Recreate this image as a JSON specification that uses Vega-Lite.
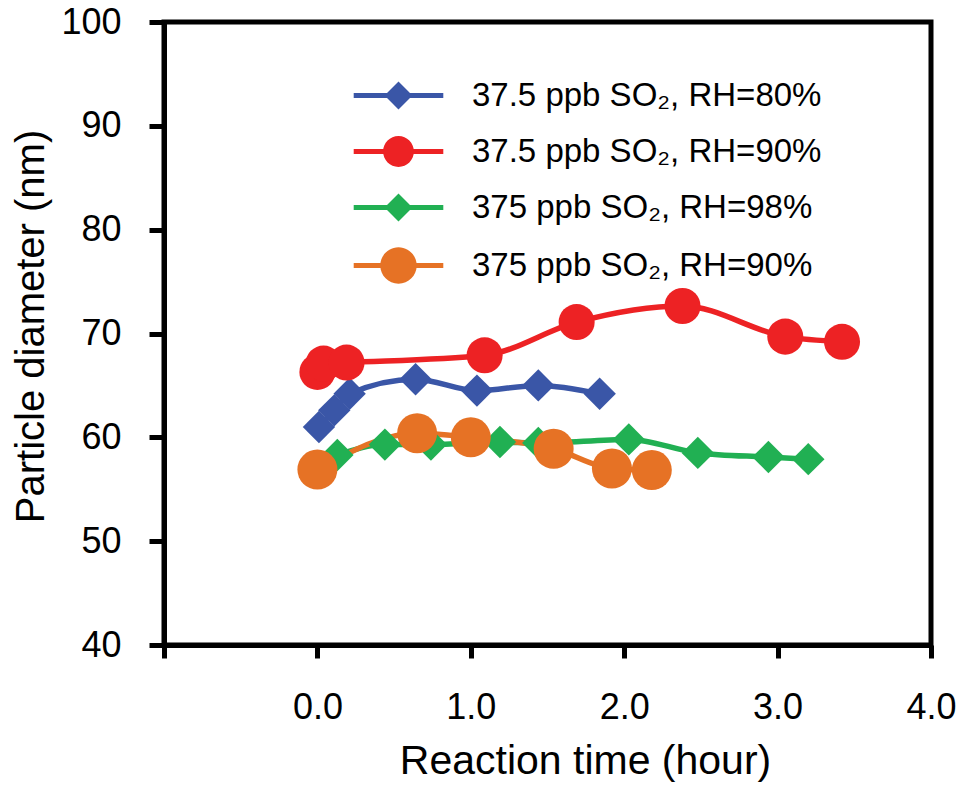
{
  "$schema": "https://vega.github.io/schema/vega-lite/v6.json",
  "width": 767,
  "height": 623,
  "autosize": {"type": "none"},
  "padding": {"left": 164, "top": 22, "right": 26, "bottom": 141},
  "background": "white",
  "config": {
    "view": {"stroke": "black", "strokeWidth": 5},
    "font": "Liberation Sans"
  },
  "data": {
    "values": [
      {"series": "37.5 ppb SO₂, RH=80%", "time": 0.01, "diameter": 61.0},
      {"series": "37.5 ppb SO₂, RH=80%", "time": 0.11, "diameter": 62.6},
      {"series": "37.5 ppb SO₂, RH=80%", "time": 0.21, "diameter": 64.2},
      {"series": "37.5 ppb SO₂, RH=80%", "time": 0.64, "diameter": 65.6},
      {"series": "37.5 ppb SO₂, RH=80%", "time": 1.04, "diameter": 64.5},
      {"series": "37.5 ppb SO₂, RH=80%", "time": 1.44, "diameter": 65.0},
      {"series": "37.5 ppb SO₂, RH=80%", "time": 1.84, "diameter": 64.2},
      {"series": "37.5 ppb SO₂, RH=90%", "time": 0.0, "diameter": 66.3},
      {"series": "37.5 ppb SO₂, RH=90%", "time": 0.04, "diameter": 67.1},
      {"series": "37.5 ppb SO₂, RH=90%", "time": 0.19, "diameter": 67.2},
      {"series": "37.5 ppb SO₂, RH=90%", "time": 1.09, "diameter": 67.9},
      {"series": "37.5 ppb SO₂, RH=90%", "time": 1.69, "diameter": 71.1},
      {"series": "37.5 ppb SO₂, RH=90%", "time": 2.38, "diameter": 72.65},
      {"series": "37.5 ppb SO₂, RH=90%", "time": 3.05, "diameter": 69.7},
      {"series": "37.5 ppb SO₂, RH=90%", "time": 3.42, "diameter": 69.2},
      {"series": "375 ppb SO₂, RH=98%", "time": 0.13, "diameter": 58.3},
      {"series": "375 ppb SO₂, RH=98%", "time": 0.44, "diameter": 59.3},
      {"series": "375 ppb SO₂, RH=98%", "time": 0.74, "diameter": 59.3},
      {"series": "375 ppb SO₂, RH=98%", "time": 1.19, "diameter": 59.55},
      {"series": "375 ppb SO₂, RH=98%", "time": 1.44, "diameter": 59.45},
      {"series": "375 ppb SO₂, RH=98%", "time": 2.03, "diameter": 59.8},
      {"series": "375 ppb SO₂, RH=98%", "time": 2.48, "diameter": 58.5},
      {"series": "375 ppb SO₂, RH=98%", "time": 2.94, "diameter": 58.1},
      {"series": "375 ppb SO₂, RH=98%", "time": 3.2, "diameter": 57.9},
      {"series": "375 ppb SO₂, RH=90%", "time": 0.0, "diameter": 56.9},
      {"series": "375 ppb SO₂, RH=90%", "time": 0.65, "diameter": 60.4},
      {"series": "375 ppb SO₂, RH=90%", "time": 1.0, "diameter": 60.0},
      {"series": "375 ppb SO₂, RH=90%", "time": 1.54, "diameter": 58.9},
      {"series": "375 ppb SO₂, RH=90%", "time": 1.92, "diameter": 57.0},
      {"series": "375 ppb SO₂, RH=90%", "time": 2.18, "diameter": 56.85}
    ]
  },
  "encoding": {
    "x": {
      "field": "time",
      "type": "quantitative",
      "scale": {"domain": [-1, 4], "nice": false, "zero": false},
      "axis": {
        "values": [-1, 0, 1, 2, 3, 4],
        "labelExpr": "datum.value < 0 ? '' : format(datum.value, '.1f')",
        "grid": false,
        "domainColor": "black",
        "domainWidth": 5,
        "tickColor": "black",
        "tickWidth": 5,
        "tickSize": 13,
        "labelFont": "Liberation Sans",
        "labelFontSize": 36,
        "labelColor": "black",
        "labelBaseline": "alphabetic",
        "labelPadding": 60,
        "labelFlush": false,
        "labelOverlap": false,
        "title": "Reaction time (hour)",
        "titleFont": "Liberation Sans",
        "titleFontSize": 41,
        "titleFontWeight": "normal",
        "titleColor": "black",
        "titleX": 421,
        "titleY": 128,
        "titleBaseline": "alphabetic"
      }
    },
    "y": {
      "field": "diameter",
      "type": "quantitative",
      "scale": {"domain": [40, 100], "nice": false, "zero": false},
      "axis": {
        "values": [40, 50, 60, 70, 80, 90, 100],
        "format": "d",
        "grid": false,
        "domainColor": "black",
        "domainWidth": 5,
        "tickColor": "black",
        "tickWidth": 5,
        "tickSize": 15,
        "labelFont": "Liberation Sans",
        "labelFontSize": 36,
        "labelColor": "black",
        "labelPadding": 28,
        "labelFlush": false,
        "labelOverlap": false,
        "title": "Particle diameter (nm)",
        "titleFont": "Liberation Sans",
        "titleFontSize": 40,
        "titleFontWeight": "normal",
        "titleColor": "black",
        "titleAngle": 270,
        "titleX": -121,
        "titleY": 304,
        "titleBaseline": "alphabetic"
      }
    },
    "color": {
      "field": "series",
      "type": "nominal",
      "scale": {
        "domain": ["37.5 ppb SO₂, RH=80%", "37.5 ppb SO₂, RH=90%", "375 ppb SO₂, RH=98%", "375 ppb SO₂, RH=90%"],
        "range": ["#3A56A7", "#ED2224", "#21B053", "#E67225"]
      },
      "legend": {
        "title": null,
        "orient": "none",
        "legendX": 218,
        "legendY": 57,
        "symbolSize": 784,
        "symbolStrokeWidth": 0,
        "symbolOpacity": 1,
        "labelOffset": 57,
        "labelFont": "Liberation Sans",
        "labelFontSize": 33,
        "labelColor": "black",
        "labelLimit": 600,
        "rowPadding": 22,
        "encode": {
          "symbols": {
            "update": {
              "shape": {"signal": "(datum.value == '37.5 ppb SO₂, RH=80%' || datum.value == '375 ppb SO₂, RH=98%') ? 'M-3.2,-0.18H-0.82L0,-1L0.82,-0.18H3.2V0.18H0.82L0,1L-0.82,0.18H-3.2Z' : (datum.value == '37.5 ppb SO₂, RH=90%' ? 'M-3.2,-0.18H3.2V0.18H-3.2ZM-1.1,0A1.1,1.1 0 1,1 1.1,0A1.1,1.1 0 1,1 -1.1,0Z' : 'M-3.2,-0.18H3.2V0.18H-3.2ZM-1.3,0A1.3,1.3 0 1,1 1.3,0A1.3,1.3 0 1,1 -1.3,0Z')"},
              "fill": {"scale": "color", "field": "value"},
              "strokeWidth": {"value": 0},
              "size": {"value": 784},
              "opacity": {"value": 1}
            }
          }
        }
      }
    },
    "order": {"field": "time", "type": "quantitative"}
  },
  "layer": [
    {
      "mark": {"type": "line", "strokeWidth": 5.5, "interpolate": "monotone"}
    },
    {
      "transform": [{"filter": {"field": "series", "oneOf": ["37.5 ppb SO₂, RH=80%", "375 ppb SO₂, RH=98%"]}}],
      "mark": {"type": "point", "shape": "diamond", "size": 1050, "filled": true, "opacity": 1, "strokeWidth": 0}
    },
    {
      "transform": [{"filter": {"field": "series", "equal": "37.5 ppb SO₂, RH=90%"}}],
      "mark": {"type": "point", "shape": "circle", "size": 1300, "filled": true, "opacity": 1, "strokeWidth": 0}
    },
    {
      "transform": [{"filter": {"field": "series", "equal": "375 ppb SO₂, RH=90%"}}],
      "mark": {"type": "point", "shape": "circle", "size": 1600, "filled": true, "opacity": 1, "strokeWidth": 0}
    }
  ]
}
